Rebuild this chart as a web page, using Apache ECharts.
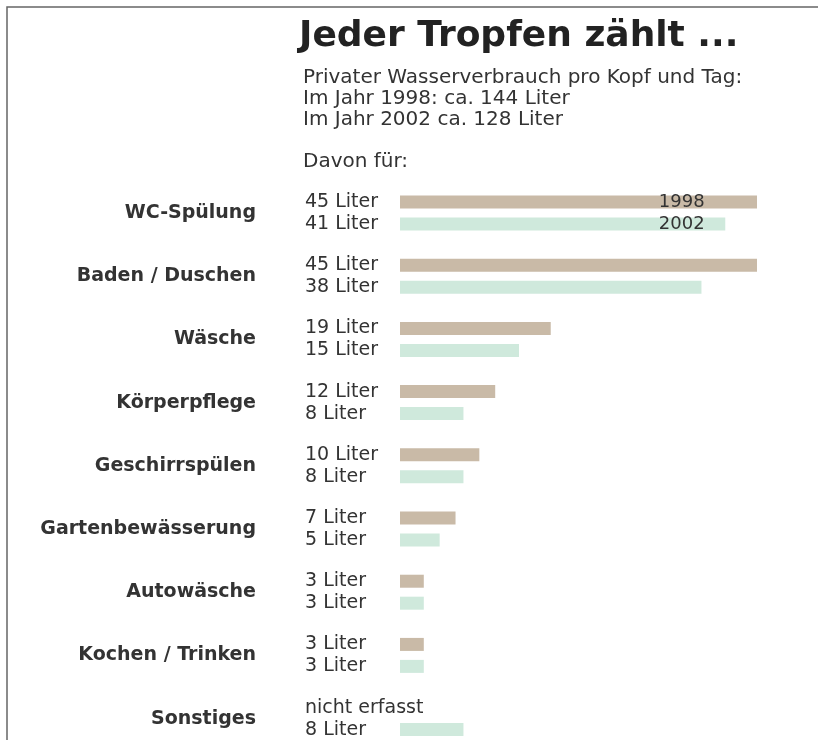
<!DOCTYPE html>
<html>
<head>
<meta charset="utf-8">
<script src="https://cdn.jsdelivr.net/npm/echarts@6/dist/echarts.min.js"></script>
<style>
  html, body { margin: 0; padding: 0; background: #fff; }
  #main { width: 818px; height: 740px; }
</style>
</head>
<body>
<div id="main"></div>
<script>
// Kategorien und Werte (Liter pro Kopf und Tag)
var kategorien = ['WC-Spülung', 'Baden / Duschen', 'Wäsche', 'Körperpflege', 'Geschirrspülen',
    'Gartenbewässerung', 'Autowäsche', 'Kochen / Trinken', 'Sonstiges'];
var liter1998 = [45, 45, 19, 12, 10, 7, 3, 3, null];   // null = nicht erfasst
var liter2002 = [41, 38, 15, 8, 8, 5, 3, 3, 8];
var jahre = ['1998', '2002'];

var titel = 'Jeder Tropfen zählt ...';
var untertitel = 'Privater Wasserverbrauch pro Kopf und Tag:\nIm Jahr 1998: ca. 144 Liter\nIm Jahr 2002 ca. 128 Liter\n\nDavon für:';

var schrift = 'DejaVu Sans';

function baueDaten(werte) {
    return werte.map(function (v) {
        if (v === null) {
            return { value: 0, label: { formatter: 'nicht erfasst' } };
        }
        return v;
    });
}

function baueSerie(name, werte, farbe) {
    return {
        name: name,
        type: 'bar',
        data: baueDaten(werte),
        barWidth: 13,
        barGap: '69%',
        itemStyle: { color: farbe },
        silent: true,
        label: {
            show: true,
            position: [-95, '50%'],
            verticalAlign: 'middle',
            align: 'left',
            fontFamily: schrift,
            fontSize: 19,
            color: '#333',
            formatter: '{c} Liter'
        },
        markPoint: {
            symbol: 'rect',
            symbolSize: 0,
            silent: true,
            label: {
                show: true,
                position: 'left',
                distance: 0,
                fontFamily: schrift,
                fontSize: 18,
                color: '#333',
                formatter: name
            },
            data: [{ coord: [38.4, kategorien[0]] }]
        }
    };
}

var chart = echarts.init(document.getElementById('main'));
chart.setOption({
    backgroundColor: '#fff',
    animation: false,
    title: [{
        text: titel,
        left: 294,
        top: 14,
        textStyle: { fontFamily: schrift, fontSize: 36, fontWeight: 'bold', color: '#222' }
    }, {
        text: untertitel,
        left: 298,
        top: 62,
        textStyle: { fontFamily: schrift, fontSize: 20, fontWeight: 'normal', color: '#333', lineHeight: 21 }
    }],
    // Kategorien liegen auf den Rändern (boundaryGap: false), Abstand ca. 63 px
    grid: { left: 400, top: 213, width: 357, height: 505.6 },
    xAxis: { type: 'value', min: 0, max: 45, show: false },
    yAxis: {
        type: 'category',
        data: kategorien,
        inverse: true,
        boundaryGap: false,
        axisLine: { show: false },
        axisTick: { show: false },
        splitLine: { show: false },
        axisLabel: {
            margin: 144,
            fontFamily: schrift,
            fontSize: 19,
            fontWeight: 'bold',
            color: '#333'
        }
    },
    series: [
        baueSerie(jahre[0], liter1998, '#c9baa7'),
        baueSerie(jahre[1], liter2002, '#cfe9dc')
    ],
    graphic: [{
        type: 'polyline',
        shape: { points: [[7, 740], [7, 7], [818, 7]] },
        style: { stroke: '#666', lineWidth: 1.5, fill: null },
        silent: true
    }]
});
</script>
</body>
</html>
